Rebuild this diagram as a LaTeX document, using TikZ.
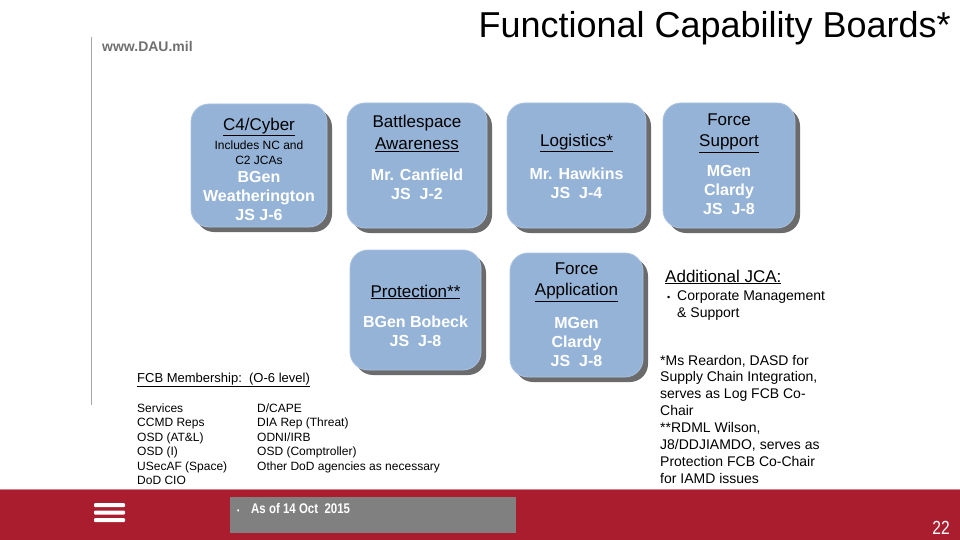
\documentclass[tikz,border=0pt]{standalone}
\usepackage{fontspec}
\setmainfont{Liberation Sans}
\newfontfamily\narrowfont[FakeStretch=0.82]{Liberation Sans}
\usetikzlibrary{positioning,shadows}
\definecolor{BoardBlue}{RGB}{149,179,215}
\definecolor{BoardEdge}{RGB}{170,194,224}
\definecolor{DAURed}{RGB}{169,29,46}
\definecolor{BandGray}{RGB}{128,128,128}
\definecolor{WebGray}{RGB}{112,112,112}

\begin{document}
\begin{tikzpicture}[x=1pt,y=-1pt,
    board/.style={draw=BoardEdge,line width=0.8pt,fill=BoardBlue,rounded corners=18pt,
      drop shadow={shadow xshift=5pt,shadow yshift=-5pt,fill=black!58,opacity=1}},
    head/.style={font=\fontsize{17}{21.5}\selectfont,align=center,inner sep=0pt},
    sub/.style={font=\fontsize{12}{15}\selectfont,align=center,inner sep=0pt},
    chair/.style={font=\bfseries\fontsize{16}{19}\selectfont,text=white,align=center,inner sep=0pt},
    memo/.style={font=\fontsize{12}{14.4}\selectfont,align=left,inner sep=0pt,anchor=base west},
    side/.style={font=\fontsize{14}{16.9}\selectfont,align=left,inner sep=0pt,anchor=base west}
  ]
    \useasboundingbox (0,0) rectangle (960,540);
    \fill[white] (0,0) rectangle (960,540);

    % header
    \draw[gray!70,line width=1pt] (91,37) -- (91,405);
    \node[font=\bfseries\fontsize{14}{16}\selectfont,text=WebGray,anchor=west,inner sep=0pt] (web) at (102,46) {www.DAU.mil};
    \node[font=\fontsize{36}{40}\selectfont,anchor=base east,inner sep=0pt] (title) at (951,38) {Functional Capability Boards*};

    % boards
    \node[board,minimum width=136pt,minimum height=123pt] (c4) at (259,165.5) {};
    \node[board,minimum width=140pt,minimum height=125pt] (bsa) at (417,165.5) {};
    \node[board,minimum width=139pt,minimum height=125pt] (log) at (576.5,165.5) {};
    \node[board,minimum width=132pt,minimum height=125pt] (fsup) at (729,165.5) {};
    \node[board,minimum width=131pt,minimum height=120pt] (prot) at (415.5,310) {};
    \node[board,minimum width=133pt,minimum height=124pt] (fapp) at (576.5,315) {};

    \node[head] (c4head) at (259,127) {\underline{C4/Cyber}};
    \node[sub] (c4sub) at (259,152.5) {Includes NC and\\C2 JCAs};
    \node[chair] (c4chair) at (259,196) {BGen\\Weatherington\\JS J-6};

    \node[head] (bsahead) at (417,133.5) {Battlespace\\\underline{Awareness}};
    \node[chair] (bsachair) at (417,184) {Mr. Canfield\\JS\ \ J-2};

    \node[head] (loghead) at (576.5,143) {\underline{Logistics*}};
    \node[chair] (logchair) at (576.5,183) {Mr. Hawkins\\JS\ \ J-4};

    \node[head] (fsuphead) at (729,133) {Force\\\underline{Support}};
    \node[chair] (fsupchair) at (729,190) {MGen\\Clardy\\JS\ \ J-8};

    \node[head] (prothead) at (415.5,292) {\underline{Protection**}};
    \node[chair] (protchair) at (415.5,331) {BGen Bobeck\\JS\ \ J-8};

    \node[head] (fapphead) at (576.5,282) {Force\\\underline{Application}};
    \node[chair] (fappchair) at (576.5,342) {MGen\\Clardy\\JS\ \ J-8};

    % membership
    \node[memo,font=\fontsize{13}{15}\selectfont] (member) at (137,382.5) {\underline{FCB Membership:\ \ (O-6 level)}};
    \node[memo] (memleft) at (137,484.5) {Services\\CCMD Reps\\OSD (AT\&L)\\OSD (I)\\USecAF (Space)\\DoD CIO};
    \node[memo] (memright) at (257,470.1) {D/CAPE\\DIA Rep (Threat)\\ODNI/IRB\\OSD (Comptroller)\\Other DoD agencies as necessary};

    % right column
    \node[side,font=\fontsize{17}{20}\selectfont] (addjca) at (665,282) {\underline{Additional JCA:}};
    \node[side] (corp) at (667,317) {\makebox[10pt][l]{\fontsize{9}{9}\selectfont\textbullet}Corporate Management\\\hspace*{10pt}\& Support};
    \node[side] (notes) at (660,483.3) {*Ms Reardon, DASD for\\Supply Chain Integration,\\serves as Log FCB Co-\\Chair\\**RDML Wilson,\\J8/DDJIAMDO, serves as\\Protection FCB Co-Chair\\for IAMD issues};

    % footer band
    \fill[DAURed] (0,489) rectangle (960,540);
    \draw[DAURed!55,line width=1pt] (0,489) -- (960,489);
    \foreach \y in {505,512.5,520}
      \fill[white,rounded corners=1pt] (94,\y-2) rectangle (125,\y+2);
    \node[fill=BandGray,minimum width=286pt,minimum height=36pt,inner sep=0pt] (asof) at (373,515) {};
    \node[font=\narrowfont\bfseries\fontsize{14}{16}\selectfont,text=white,anchor=base west,inner sep=0pt] (asoftext) at (237,513)
      {\makebox[14pt][l]{\fontsize{8}{8}\selectfont\textbullet}As of 14 Oct\ \ 2015};
    \node[font=\narrowfont\fontsize{19}{21}\selectfont,text=white,anchor=base east,inner sep=0pt] (page) at (950,534) {22};
\end{tikzpicture}
\end{document}
